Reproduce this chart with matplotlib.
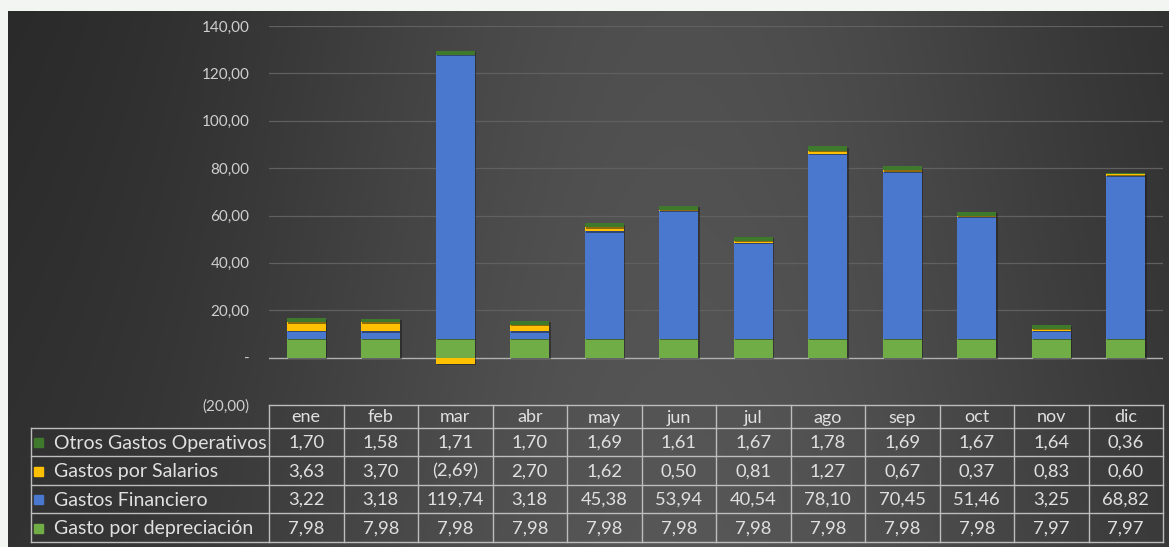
import numpy as np
import matplotlib
matplotlib.use('Agg')
import matplotlib.pyplot as plt
from matplotlib.ticker import FuncFormatter
import matplotlib.patheffects as pe

plt.rcParams['font.family'] = ['Lato', 'DejaVu Sans']

months = ['ene', 'feb', 'mar', 'abr', 'may', 'jun', 'jul', 'ago', 'sep', 'oct', 'nov', 'dic']
otros = [1.70, 1.58, 1.71, 1.70, 1.69, 1.61, 1.67, 1.78, 1.69, 1.67, 1.64, 0.36]
salarios = [3.63, 3.70, -2.69, 2.70, 1.62, 0.50, 0.81, 1.27, 0.67, 0.37, 0.83, 0.60]
financiero = [3.22, 3.18, 119.74, 3.18, 45.38, 53.94, 40.54, 78.10, 70.45, 51.46, 3.25, 68.82]
deprec = [7.98, 7.98, 7.98, 7.98, 7.98, 7.98, 7.98, 7.98, 7.98, 7.98, 7.97, 7.97]

# bottom to top in the stack
series = [('Gasto por depreciación', deprec, '#70ad47'),
          ('Gastos Financiero', financiero, '#4a78cf'),
          ('Gastos por Salarios', salarios, '#ffc000'),
          ('Otros Gastos Operativos', otros, '#3f7a2c')]
# order of the rows in the table (top to bottom)
table_rows = [3, 2, 1, 0]

W, H = 1169, 547
fig = plt.figure(figsize=(W / 100, H / 100), dpi=100)

def fx(px):
    return px / W

def fy(py):
    return 1 - py / H

# background: light frame + dark gradient panel
bg = fig.add_axes([0, 0, 1, 1])
bg.set_xlim(0, W)
bg.set_ylim(H, 0)
bg.axis('off')
bg.add_patch(plt.Rectangle((0, 0), W, H, color='#f2f5f1', zorder=0))
xs = np.linspace(0, 1, 400)
ys = np.linspace(0, 1, 200)
X, Y = np.meshgrid(xs, ys)
val = 0.15 + 0.16 * np.exp(-((X - 0.58) / 0.38) ** 2) + 0.03 * Y
img = np.dstack([val, val, val])
bg.imshow(img, extent=(8, W, H, 11), aspect='auto', zorder=1, interpolation='bilinear')

# main chart
x0, x1 = 269, 1163
ytop, ybot = 26, 405
ax = fig.add_axes([fx(x0), fy(ybot), fx(x1 - x0), (ybot - ytop) / H])
ax.set_facecolor('none')
ax.set_xlim(-0.5, 11.5)
ax.set_ylim(-20, 140)

idx = np.arange(len(months))
pos_bottom = np.zeros(len(months))
neg_bottom = np.zeros(len(months))
shadow = [pe.SimplePatchShadow(offset=(1, -1), shadow_rgbFace='#1a1a1a', alpha=0.5), pe.Normal()]
for name, vals, col in series:
    v = np.array(vals)
    bottom = np.where(v >= 0, pos_bottom, neg_bottom)
    bars = ax.bar(idx, v, 0.53, bottom=bottom, color=col, zorder=3)
    for b in bars:
        b.set_path_effects(shadow)
    pos_bottom += np.where(v >= 0, v, 0)
    neg_bottom += np.where(v < 0, v, 0)

ax.set_yticks(np.arange(-20, 141, 20))
for y in range(20, 141, 20):
    ax.axhline(y, color='#606060', lw=0.9, zorder=1)
ax.axhline(0, color='#b0b0b0', lw=1.0, zorder=2)

def fmt(v, pos=None):
    if abs(v) < 1e-9:
        return '-'
    s = '{:.2f}'.format(abs(v)).replace('.', ',')
    return '(' + s + ')' if v < 0 else s

ax.yaxis.set_major_formatter(FuncFormatter(fmt))
ax.tick_params(axis='y', length=0, pad=14, labelsize=11, labelcolor='#cfcfcf')
ax.tick_params(axis='x', length=0, labelbottom=False)
for s in ax.spines.values():
    s.set_visible(False)

# data table under the chart
lab_x = 31
row_y = [405, 428, 456, 485, 513, 542]
unit = (x1 - x0) / 12.0
tab = fig.add_axes([0, 0, 1, 1])
tab.set_xlim(0, W)
tab.set_ylim(H, 0)
tab.axis('off')
lc = '#bdbdbd'
tc = '#e0e0e0'
# month columns
col_edges = [x0 + i * unit for i in range(13)]
for ex in col_edges:
    tab.plot([ex, ex], [row_y[0], row_y[-1]], color=lc, lw=1.0)
tab.plot([lab_x, lab_x], [row_y[1], row_y[-1]], color=lc, lw=1.0)
tab.plot([x0, x1], [row_y[0], row_y[0]], color=lc, lw=1.0)
for ry in row_y[1:]:
    tab.plot([lab_x, x1], [ry, ry], color=lc, lw=1.0)
for i, m in enumerate(months):
    tab.text(x0 + (i + 0.5) * unit, (row_y[0] + row_y[1]) / 2 + 1, m,
             ha='center', va='center', fontsize=13, color=tc)
for r, si in enumerate(table_rows):
    name, vals, col = series[si]
    cy = (row_y[r + 1] + row_y[r + 2]) / 2 + 1
    tab.add_patch(plt.Rectangle((34, cy - 5), 9, 9, color=col))
    tab.text(54, cy, name, ha='left', va='center', fontsize=14, color=tc)
    for i, v in enumerate(vals):
        tab.text(x0 + (i + 0.5) * unit, cy, fmt(v), ha='center', va='center',
                 fontsize=13.2, color=tc)

fig.savefig('out.png', dpi=100)
